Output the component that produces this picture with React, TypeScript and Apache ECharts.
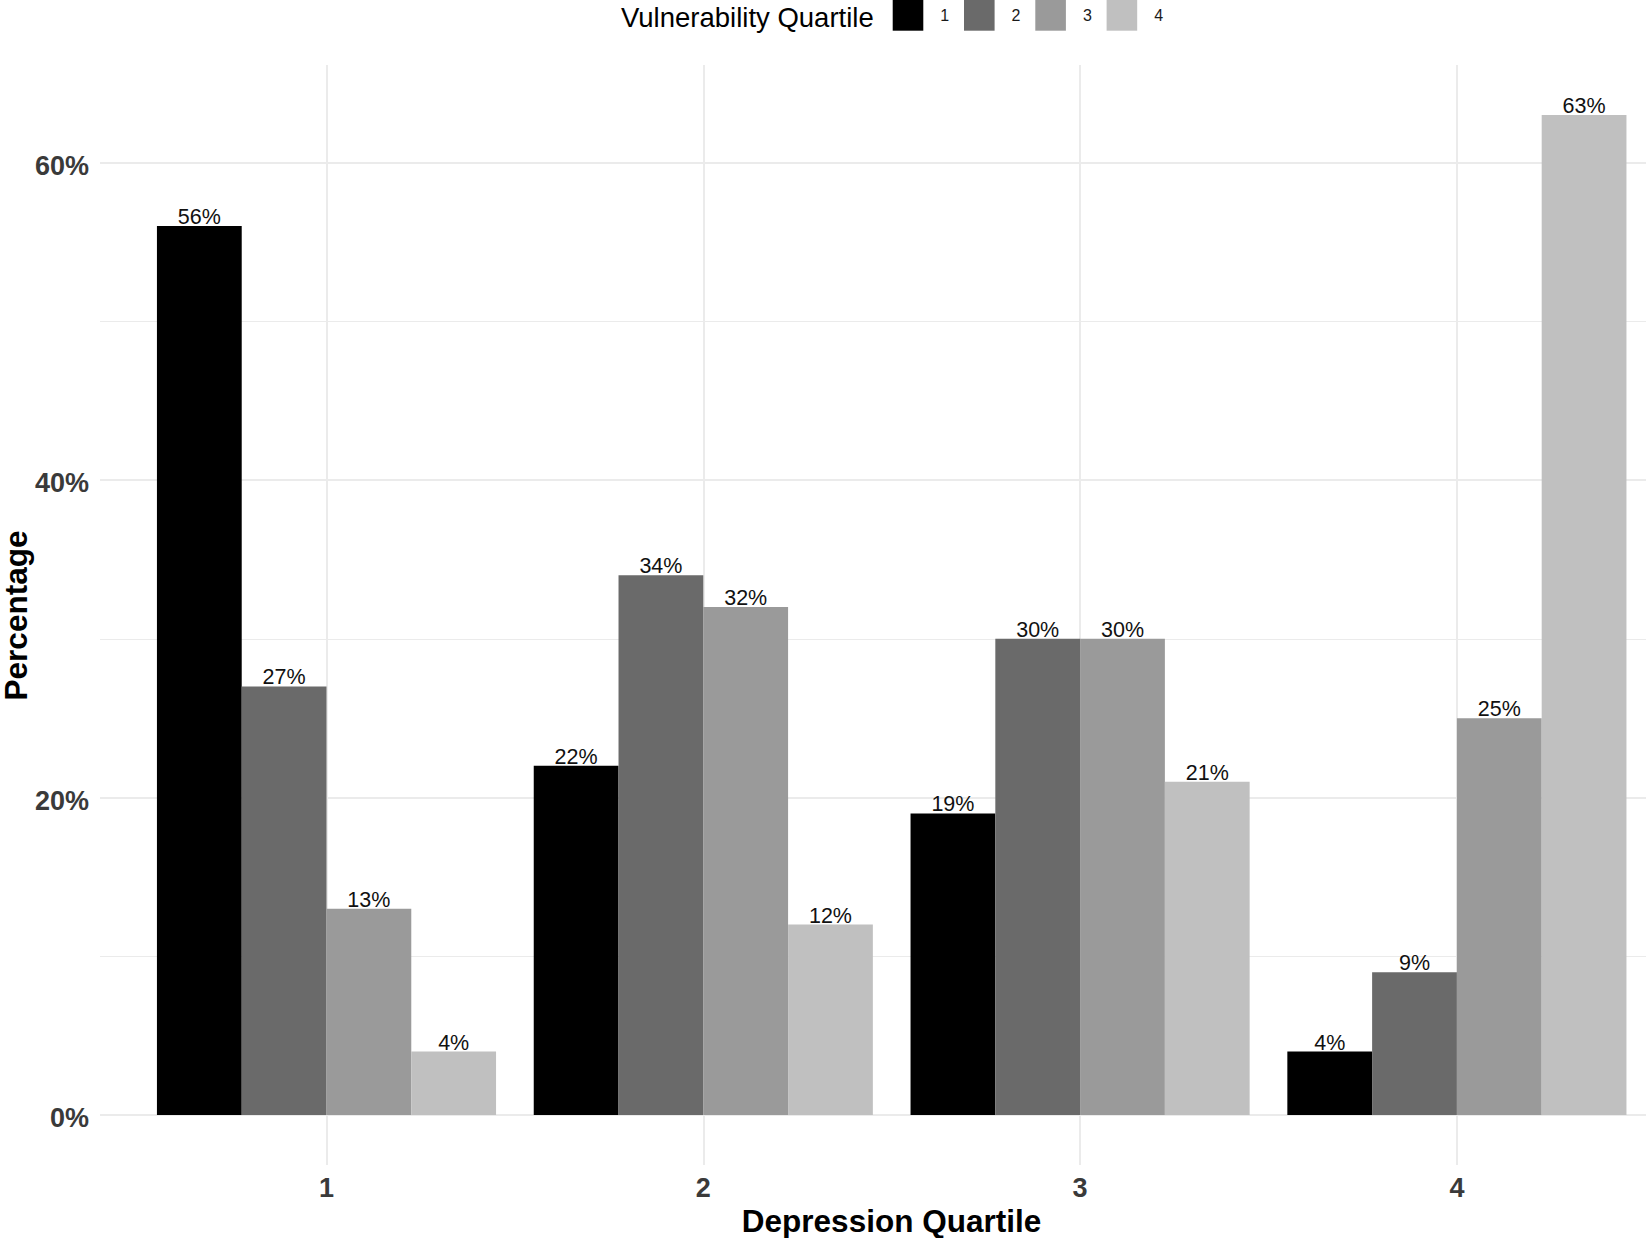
import React, { useEffect, useRef } from "react";
import * as echarts from "echarts";

const categories = ["1", "2", "3", "4"];
const seriesNames = ["1", "2", "3", "4"];
const q1Values = [56, 22, 19, 4];
const q2Values = [27, 34, 30, 9];
const q3Values = [13, 32, 30, 25];
const q4Values = [4, 12, 21, 63];
const colors = ["#000000", "#6A6A6A", "#9A9A9A", "#C0C0C0"];
const majorTicks = [0, 20, 40, 60];
const minorTicks = [10, 30, 50];
const xGridTicks = [1, 2, 3, 4];
const yMin = -3.15;
const yMax = 66.15;

const FONT = "'Liberation Sans', Arial, Helvetica, sans-serif";

export default function App() {
  const ref = useRef<HTMLDivElement>(null);
  useEffect(() => {
    if (!ref.current) return;
    const chart = echarts.init(ref.current, null, { renderer: "svg" });
    const allValues = [q1Values, q2Values, q3Values, q4Values];
    const gridTop = 65;
    const gridHeight = 1100;
    chart.setOption({
      animation: false,
      backgroundColor: "#ffffff",
      grid: [
        { left: 100, top: gridTop, width: 1546, height: gridHeight },
        { left: 138.1, top: gridTop, width: 1507.2, height: gridHeight },
      ],
      legend: {
        data: seriesNames,
        icon: "rect",
        left: 892.7,
        top: 0,
        padding: 0,
        itemWidth: 30.6,
        itemHeight: 30.7,
        itemGap: 14.8,
        textStyle: {
          fontFamily: FONT,
          fontSize: 16,
          color: "#1a1a1a",
          padding: [2, 0, 0, 12],
        },
      },
      xAxis: [
        { type: "value", gridIndex: 0, show: false, min: 0, max: 1 },
        {
          type: "category",
          gridIndex: 1,
          data: categories,
          boundaryGap: true,
          axisLine: { show: false },
          axisTick: { show: false },
          splitLine: { show: false },
          axisLabel: {
            margin: 9,
            fontFamily: FONT,
            fontSize: 27,
            fontWeight: "bold",
            color: "#3a3a3a",
          },
        },
        {
          type: "value",
          gridIndex: 1,
          min: 0.5,
          max: 4.5,
          position: "top",
          axisLine: { show: false },
          axisTick: { show: false, customValues: xGridTicks },
          axisLabel: { show: false, customValues: xGridTicks },
          splitLine: { show: true, lineStyle: { color: "#EBEBEB", width: 2 } },
        },
      ],
      yAxis: [
        {
          type: "value",
          gridIndex: 0,
          min: yMin,
          max: yMax,
          axisLine: { show: false },
          axisTick: { show: false, customValues: majorTicks },
          axisLabel: {
            customValues: majorTicks,
            formatter: (v: number) => `{v|${v}%}`,
            margin: 11,
            rich: {
              v: {
                padding: [6, 0, 0, 0],
                fontFamily: FONT,
                fontSize: 27,
                fontWeight: "bold",
                color: "#3a3a3a",
              },
            },
            fontFamily: FONT,
            fontSize: 27,
            fontWeight: "bold",
            color: "#3a3a3a",
          },
          splitLine: { show: true, lineStyle: { color: "#EBEBEB", width: 2 } },
        },
        {
          type: "value",
          gridIndex: 0,
          min: yMin,
          max: yMax,
          axisLine: { show: false },
          axisTick: { show: false, customValues: minorTicks },
          axisLabel: { show: false, customValues: minorTicks },
          splitLine: { show: true, lineStyle: { color: "#EBEBEB", width: 1 } },
        },
        {
          type: "value",
          gridIndex: 1,
          min: yMin,
          max: yMax,
          show: false,
          splitLine: { show: false },
        },
      ],
      series: seriesNames.map((name, i) => ({
        name,
        type: "bar",
        xAxisIndex: 1,
        yAxisIndex: 2,
        data: allValues[i],
        barGap: "0%",
        barCategoryGap: "10%",
        itemStyle: { color: colors[i] },
        label: {
          show: true,
          position: "top",
          distance: -2,
          formatter: "{c}%",
          fontFamily: FONT,
          fontSize: 21.5,
          color: "#111111",
        },
      })),
      graphic: [
        {
          type: "text",
          left: 621,
          top: 3,
          style: {
            text: "Vulnerability Quartile",
            fontFamily: FONT,
            fontSize: 27.5,
            fill: "#000000",
          },
        },
        {
          type: "text",
          x: 891.5,
          y: 1220.5,
          style: {
            text: "Depression Quartile",
            fontFamily: FONT,
            fontSize: 31.5,
            fontWeight: "bold",
            fill: "#000000",
            textAlign: "center",
            textVerticalAlign: "middle",
          },
        },
        {
          type: "text",
          x: 16,
          y: 615.5,
          rotation: Math.PI / 2,
          style: {
            text: "Percentage",
            fontFamily: FONT,
            fontSize: 31.5,
            fontWeight: "bold",
            fill: "#000000",
            textAlign: "center",
            textVerticalAlign: "middle",
          },
        },
      ],
    });
    return () => chart.dispose();
  }, []);
  return (
    <div
      ref={ref}
      style={{ position: "absolute", left: 0, top: 0, width: 1646, height: 1238 }}
    />
  );
}
